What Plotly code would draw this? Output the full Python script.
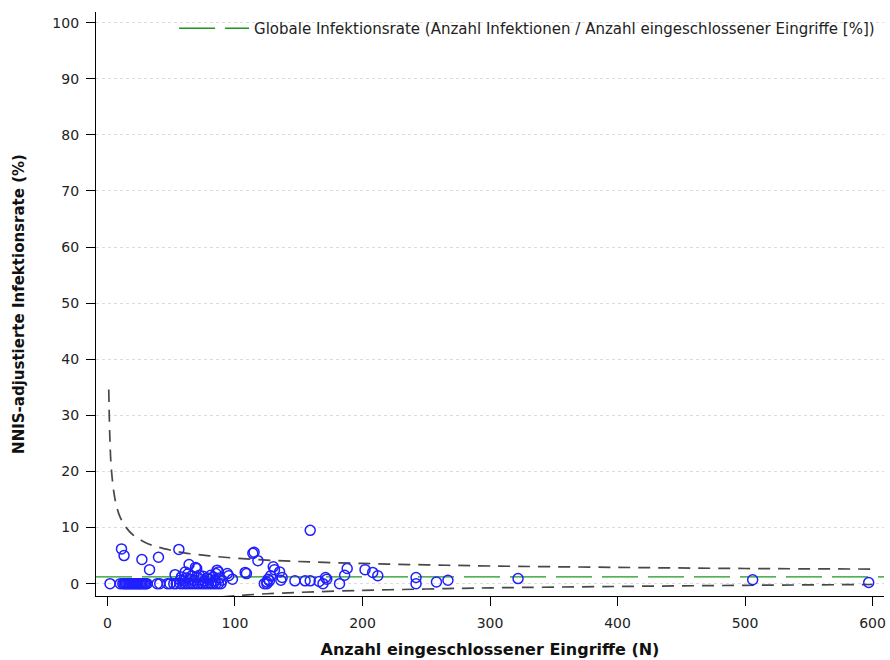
import plotly.graph_objects as go

# ---- data ----
# hospitals: number of included procedures (N) and NNIS-adjusted infection rate (%)
zero_n = [2, 10, 12, 13, 14, 15, 16, 17, 18, 19, 20, 21, 22, 23, 24, 25, 26, 27, 28, 29,
          30, 31, 39, 41, 47, 49, 52, 54, 57, 59, 61, 63, 65, 67, 69, 71, 73, 75, 77, 79,
          81, 83, 85, 87, 89, 123, 125, 169, 182, 242]
zero_rate = [0.0] * len(zero_n)

pos_n = [11, 13, 27, 33, 40, 53, 56, 57, 58, 60, 61, 62, 63, 64, 65, 66, 68, 69, 70, 71,
         72, 73, 75, 76, 78, 80, 81, 83, 84, 85, 86, 87, 88, 90, 94, 95, 98, 108, 109,
         114, 115, 118, 125, 126, 127, 128, 130, 131, 135, 136, 137, 147, 155, 159, 159,
         166, 171, 172, 186, 188, 202, 208, 212, 242, 258, 267, 322, 506, 597]
pos_rate = [6.2, 5.0, 4.3, 2.5, 4.7, 1.6, 6.1, 0.6, 1.2, 0.5, 2.1, 1.0, 1.7, 3.4, 0.8, 1.4,
            0.6, 2.9, 2.7, 1.1, 1.5, 0.7, 1.3, 0.5, 1.0, 0.8, 1.5, 1.2, 0.5, 1.8, 2.4, 2.1,
            1.0, 0.6, 1.8, 1.4, 0.8, 2.0, 1.8, 5.4, 5.6, 4.1, 0.3, 0.8, 0.5, 1.4, 3.0, 2.5,
            2.1, 0.6, 1.1, 0.5, 0.5, 0.5, 9.5, 0.4, 1.1, 0.8, 1.5, 2.7, 2.5, 2.0, 1.4, 1.1,
            0.3, 0.6, 0.9, 0.7, 0.2]

# funnel limits
upper_n = [1, 2, 3, 5, 7, 10, 15, 20, 30, 40, 50, 60, 80, 100, 125, 150, 200, 250, 300,
           400, 500, 600]
upper_rate = [34.6, 25.0, 20.6, 16.3, 13.9, 11.8, 9.9, 8.7, 7.3, 6.5, 5.95, 5.5, 4.95,
              4.55, 4.2, 3.95, 3.6, 3.35, 3.15, 2.9, 2.7, 2.6]
lower_n = [90, 100, 110, 125, 150, 200, 250, 300, 400, 500, 600]
lower_rate = [-2.35, -2.15, -2.0, -1.8, -1.55, -1.2, -0.95, -0.75, -0.5, -0.3, -0.15]

global_rate = 1.2
x_range = [-9, 609]
y_range = [-2.2, 101.9]
y_ticks = [0, 10, 20, 30, 40, 50, 60, 70, 80, 90, 100]
x_ticks = [0, 100, 200, 300, 400, 500, 600]

legend_text = "Globale Infektionsrate (Anzahl Infektionen / Anzahl eingeschlossener Eingriffe [%])"
x_title = "Anzahl eingeschlossener Eingriffe (N)"
y_title = "NNIS-adjustierte Infektionsrate (%)"

FONT = "DejaVu Sans, Verdana, sans-serif"

fig = go.Figure()

fig.add_trace(go.Scatter(
    x=upper_n, y=upper_rate, mode="lines", showlegend=False, hoverinfo="skip",
    line=dict(color="rgba(40,40,40,0.85)", width=1.7, dash="12px,8px", shape="spline"),
))
fig.add_trace(go.Scatter(
    x=lower_n, y=lower_rate, mode="lines", showlegend=False, hoverinfo="skip",
    line=dict(color="rgba(40,40,40,0.85)", width=1.7, dash="12px,8px", shape="spline"),
))
fig.add_trace(go.Scatter(
    x=[x_range[0], x_range[1]], y=[global_rate, global_rate], mode="lines",
    name=legend_text,
    line=dict(color="#1f961f", width=1.3, dash="36px,10px"),
))
fig.add_trace(go.Scatter(
    x=zero_n + pos_n, y=zero_rate + pos_rate, mode="markers", showlegend=False,
    marker=dict(symbol="circle-open", size=10, color="#1f1fff", line=dict(width=1.5)),
))

fig.update_layout(
    width=890, height=660,
    margin=dict(l=96, r=4, t=12, b=64),
    plot_bgcolor="white", paper_bgcolor="white",
    font=dict(family=FONT, size=13, color="#222"),
    legend=dict(x=0.995, xanchor="right", y=1.0, yanchor="top",
                bgcolor="rgba(255,255,255,0)", font=dict(size=15, family=FONT),
                itemwidth=70),
)
fig.update_xaxes(
    range=x_range, tickvals=x_ticks, showgrid=False, zeroline=False,
    showline=True, linecolor="black", linewidth=1.2,
    ticks="outside", ticklen=9, tickcolor="black", ticklabelstandoff=5,
    tickfont=dict(size=14, family=FONT, color="#222"),
    title=dict(text="<b>" + x_title + "</b>", font=dict(size=16, family=FONT, color="#111"),
               standoff=13),
)
fig.update_yaxes(
    range=y_range, tickvals=y_ticks, showgrid=True, gridcolor="#dcdcdc", griddash="dot",
    gridwidth=1, zeroline=False,
    showline=True, linecolor="black", linewidth=1.2,
    ticks="outside", ticklen=9, tickcolor="black", ticklabelstandoff=4,
    tickfont=dict(size=14, family=FONT, color="#222"),
    title=dict(text="<b>" + y_title + "</b>", font=dict(size=15, family=FONT, color="#111"),
               standoff=24),
)

fig.write_html("out.html")
